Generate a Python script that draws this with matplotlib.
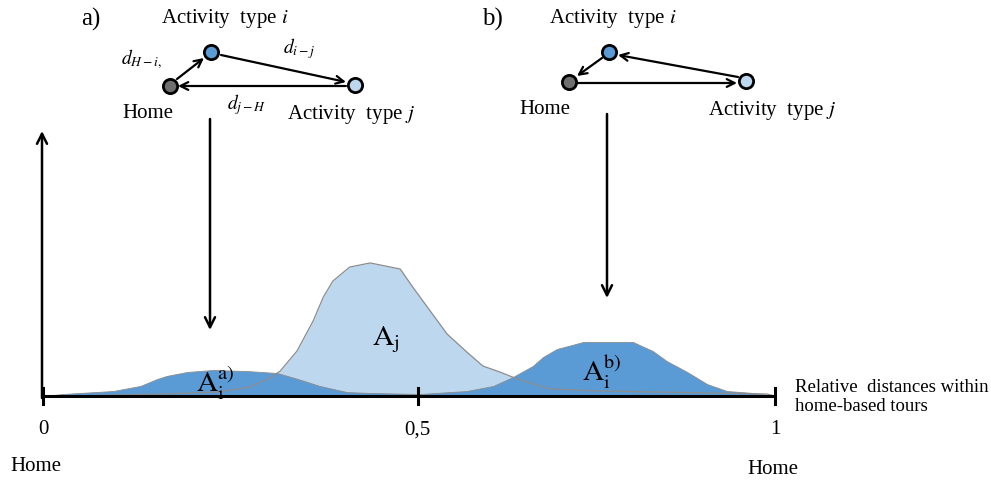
import matplotlib
matplotlib.use('Agg')
import matplotlib.pyplot as plt

plt.rcParams['font.family'] = ['Liberation Serif', 'DejaVu Serif']
plt.rcParams['mathtext.fontset'] = 'stix'

# ---------------- data (relative distance, density height) ----------------
ai_a_x = [0.000, 0.027, 0.096, 0.133, 0.156, 0.169, 0.197, 0.232, 0.279,
          0.320, 0.348, 0.378, 0.415, 0.447, 0.515, 0.597, 0.625]
ai_a_y = [0.000, 0.015, 0.038, 0.076, 0.129, 0.152, 0.182, 0.197, 0.189,
          0.174, 0.129, 0.076, 0.030, 0.023, 0.015, 0.008, 0.000]

aj_x = [0.020, 0.074, 0.164, 0.238, 0.283, 0.310, 0.324, 0.347, 0.369, 0.383,
        0.396, 0.419, 0.447, 0.488, 0.505, 0.529, 0.552, 0.579, 0.601, 0.624,
        0.648, 0.693, 0.761, 0.989, 1.000]
aj_y = [0.000, 0.004, 0.015, 0.030, 0.068, 0.136, 0.189, 0.341, 0.568, 0.750,
        0.871, 0.977, 1.008, 0.962, 0.826, 0.644, 0.470, 0.333, 0.227, 0.182,
        0.129, 0.053, 0.038, 0.015, 0.000]

ai_b_x = [0.440, 0.515, 0.579, 0.615, 0.642, 0.669, 0.683, 0.702, 0.738,
          0.806, 0.833, 0.852, 0.880, 0.907, 0.934, 0.970, 1.000]
ai_b_y = [0.000, 0.015, 0.038, 0.076, 0.144, 0.227, 0.295, 0.356, 0.409,
          0.409, 0.341, 0.265, 0.182, 0.091, 0.038, 0.023, 0.000]

tick_vals = [0, 0.512, 1]
tick_labels = ['0', '0,5', '1']

DARK = '#5b9bd5'
LIGHT = '#bdd7ee'
HOMEC = '#6f6f6f'
EDGE = '#8c8c8c'

fig = plt.figure(figsize=(9.91, 4.85), dpi=100)

# chart axes: x 0..1 -> px 43..775, baseline at px 397
ax = fig.add_axes([43 / 991, 88 / 485, 732 / 991, 264 / 485])
ax.set_xlim(0, 1)
ax.set_ylim(0, 2)
ax.axis('off')

# overlay axes in pixel coordinates for the sketches / labels
bg = fig.add_axes([0, 0, 1, 1])
bg.set_xlim(0, 991)
bg.set_ylim(485, 0)
bg.axis('off')
bg.set_zorder(5)

ax.fill_between(aj_x, aj_y, 0, color=LIGHT, lw=0, zorder=1)
ax.fill_between(ai_a_x, ai_a_y, 0, facecolor=DARK, edgecolor=EDGE, lw=0.6, zorder=2)
ax.fill_between(ai_b_x, ai_b_y, 0, facecolor=DARK, edgecolor=EDGE, lw=0.6, zorder=2)
ax.plot(aj_x, aj_y, color=EDGE, lw=0.9, zorder=3)

# x axis line + ticks
ax.plot([0, 1], [0, 0], color='k', lw=2.2, zorder=4, clip_on=False,
        solid_capstyle='butt')
for t in tick_vals:
    ax.plot([t, t], [-0.06, 0.06], color='k', lw=2.2, zorder=4, clip_on=False)
for t, lab in zip(tick_vals, tick_labels):
    ax.text(t, -0.25, lab, ha='center', va='center', fontsize=15)

# y axis arrow
bg.annotate('', xy=(42, 132), xytext=(42, 399),
            arrowprops=dict(arrowstyle='->', lw=1.8, color='k', mutation_scale=18,
                            shrinkA=0, shrinkB=0))

bg.text(36, 467, 'Home', ha='center', va='center', fontsize=15)
bg.text(773, 470, 'Home', ha='center', va='center', fontsize=15)
bg.text(795, 397, 'Relative  distances within\nhome-based tours', ha='left',
        va='center', fontsize=13.5, linespacing=1.1)

# area labels
bg.text(372, 340, r'$\mathrm{A}_\mathrm{j}$', ha='left', va='center', fontsize=21)
bg.text(196, 383, r'$\mathrm{A}_\mathrm{i}^{\mathrm{a)}}$', ha='left', va='center', fontsize=21)
bg.text(582, 372, r'$\mathrm{A}_\mathrm{i}^{\mathrm{b)}}$', ha='left', va='center', fontsize=21)

# vertical arrows from sketches to curves
for x0, y0, y1 in [(210, 120, 331), (607, 115, 299)]:
    bg.annotate('', xy=(x0, y1), xytext=(x0, y0),
                arrowprops=dict(arrowstyle='->', lw=1.8, color='k', mutation_scale=18,
                                shrinkA=0, shrinkB=0))


def arrow(p0, p1):
    bg.annotate('', xy=p1, xytext=p0,
                arrowprops=dict(arrowstyle='->', lw=1.6, color='k', mutation_scale=14,
                                shrinkA=0, shrinkB=0))


def node(p, c):
    bg.scatter([p[0]], [p[1]], s=105, color=c, edgecolor='k', linewidth=2, zorder=5)


# ---- sketch a) ----
home_a, i_a, j_a = (170, 87), (211, 53), (355, 86)
arrow((177, 80), (204, 59))
arrow((221, 56), (346, 83))
arrow((346, 87), (178, 87))
node(home_a, HOMEC)
node(i_a, DARK)
node(j_a, LIGHT)
bg.text(91, 19, 'a)', ha='center', va='center', fontsize=18)
bg.text(225, 18, 'Activity  type $\\it{i}$', ha='center', va='center', fontsize=15)
bg.text(148, 113, 'Home', ha='center', va='center', fontsize=15)
bg.text(351, 114, 'Activity  type $\\it{j}$', ha='center', va='center', fontsize=15)
bg.text(142, 59, r'$d_{H-i,}$', ha='center', va='center', fontsize=14)
bg.text(299, 49, r'$d_{i-j}$', ha='center', va='center', fontsize=14)
bg.text(247, 105, r'$d_{j-H}$', ha='center', va='center', fontsize=14)

# ---- sketch b) ----
home_b, i_b, j_b = (569, 83), (609, 53), (746, 82)
arrow((738, 78), (618, 56))
arrow((602, 59), (577, 77))
arrow((578, 84), (737, 84))
node(home_b, HOMEC)
node(i_b, DARK)
node(j_b, LIGHT)
bg.text(492, 19, 'b)', ha='center', va='center', fontsize=18)
bg.text(613, 18, 'Activity  type $\\it{i}$', ha='center', va='center', fontsize=15)
bg.text(545, 110, 'Home', ha='center', va='center', fontsize=15)
bg.text(772, 110, 'Activity  type $\\it{j}$', ha='center', va='center', fontsize=15)

fig.savefig('out.png', dpi=100)
